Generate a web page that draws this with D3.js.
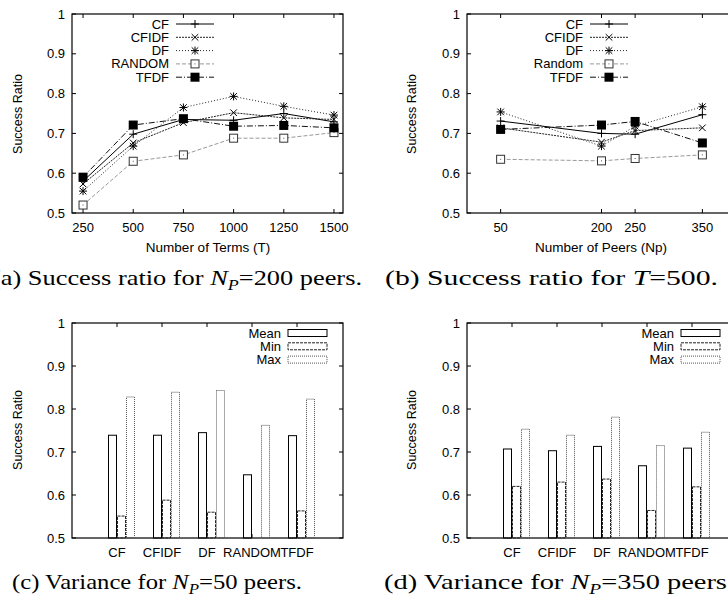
<!DOCTYPE html>
<html>
<head>
<meta charset="utf-8">
<script src="https://cdn.jsdelivr.net/npm/d3@7"></script>
<style>
  body { margin: 0; background: #fff; }
  svg text { font-family: "Liberation Sans", Arial, sans-serif; }
  .cap { font-family: "Liberation Serif", "Times New Roman", serif; font-size: 22px; }
</style>
</head>
<body>
<svg id="chart" width="728" height="600"></svg>
<script>
// ---- data ----
var methods = ["CF", "CFIDF", "DF", "RANDOM", "TFDF"];
var methodsB = ["CF", "CFIDF", "DF", "Random", "TFDF"];
var yTicks = [0.5, 0.6, 0.7, 0.8, 0.9, 1];

// (a) success ratio vs number of terms, Np=200
var terms = [250, 500, 750, 1000, 1250, 1500];
var aCF     = [0.580, 0.698, 0.735, 0.733, 0.750, 0.729];
var aCFIDF  = [0.573, 0.676, 0.727, 0.752, 0.739, 0.735];
var aDF     = [0.555, 0.668, 0.765, 0.793, 0.768, 0.746];
var aRANDOM = [0.520, 0.630, 0.646, 0.688, 0.688, 0.702];
var aTFDF   = [0.590, 0.721, 0.737, 0.718, 0.720, 0.714];

// (b) success ratio vs number of peers, T=500
var peers = [50, 200, 250, 350];
var bCF     = [0.731, 0.700, 0.698, 0.747];
var bCFIDF  = [0.714, 0.678, 0.707, 0.714];
var bDF     = [0.754, 0.668, 0.718, 0.767];
var bRandom = [0.635, 0.631, 0.637, 0.646];
var bTFDF   = [0.710, 0.721, 0.730, 0.676];

// (c) variance, Np=50
var cMean = [0.739, 0.739, 0.745, 0.647, 0.738];
var cMin  = [0.551, 0.588, 0.560, 0.500, 0.563];
var cMax  = [0.828, 0.839, 0.843, 0.762, 0.823];

// (d) variance, Np=350
var dMean = [0.707, 0.703, 0.713, 0.668, 0.709];
var dMin  = [0.620, 0.630, 0.637, 0.564, 0.619];
var dMax  = [0.753, 0.739, 0.781, 0.715, 0.746];

var svg = d3.select("#chart");

// line styles per series (index matches methods)
var styles = [
  {dash: null,        color: "#000", marker: "plus"},
  {dash: "2,1",       color: "#222", marker: "cross"},
  {dash: "1,2",       color: "#222", marker: "star"},
  {dash: "4,2",       color: "#999", marker: "box"},
  {dash: "6,2,1,2",   color: "#111", marker: "fbox"}
];

function marker(g, type, x, y) {
  var s = 4;
  if (type == "plus" || type == "star") {
    g.append("path").attr("d", "M" + (x - s) + "," + y + "H" + (x + s) + "M" + x + "," + (y - s) + "V" + (y + s))
      .attr("stroke", "#000").attr("stroke-width", 1);
  }
  if (type == "cross" || type == "star") {
    var c = 3.3;
    g.append("path").attr("d", "M" + (x - c) + "," + (y - c) + "L" + (x + c) + "," + (y + c) + "M" + (x - c) + "," + (y + c) + "L" + (x + c) + "," + (y - c))
      .attr("stroke", "#000").attr("stroke-width", 1);
  }
  if (type == "box") {
    g.append("rect").attr("x", x - 4).attr("y", y - 4).attr("width", 8).attr("height", 8)
      .attr("fill", "#fff").attr("stroke", "#333").attr("stroke-width", 1);
    g.append("rect").attr("x", x - 0.5).attr("y", y - 0.5).attr("width", 1).attr("height", 1).attr("fill", "#555");
  }
  if (type == "fbox") {
    g.append("rect").attr("x", x - 4.5).attr("y", y - 4.5).attr("width", 9).attr("height", 9).attr("fill", "#000");
  }
}

// frame + y axis common to all panels
function frame(left, right, top, bottom, y, xticks, xpos) {
  var g = svg.append("g");
  g.append("rect").attr("x", left).attr("y", top).attr("width", right - left).attr("height", bottom - top)
    .attr("fill", "none").attr("stroke", "#000").attr("stroke-width", 1.2);
  yTicks.forEach(function(t) {
    var yy = y(t);
    g.append("line").attr("x1", left).attr("x2", left + 4).attr("y1", yy).attr("y2", yy).attr("stroke", "#000");
    g.append("line").attr("x1", right - 4).attr("x2", right).attr("y1", yy).attr("y2", yy).attr("stroke", "#000");
    g.append("text").attr("x", left - 7).attr("y", yy + 4.5).attr("text-anchor", "end")
      .attr("font-size", 13).text(t === 1 ? "1" : d3.format(".1f")(t));
  });
  xticks.forEach(function(t) {
    var xx = xpos(t);
    g.append("line").attr("x1", xx).attr("x2", xx).attr("y1", bottom).attr("y2", bottom - 4).attr("stroke", "#000");
    g.append("line").attr("x1", xx).attr("x2", xx).attr("y1", top).attr("y2", top + 4).attr("stroke", "#000");
  });
  return g;
}

function yTitle(x, cy) {
  svg.append("text").attr("transform", "translate(" + x + "," + cy + ") rotate(-90)")
    .attr("text-anchor", "middle").attr("font-size", 12.5).text("Success Ratio");
}

// ---------- line panels ----------
function linePanel(opt) {
  var y = d3.scaleLinear().domain([0.5, 1]).range([opt.bottom, opt.top]);
  var x = d3.scaleLinear().domain(opt.xdom).range([opt.left, opt.left + opt.xw]);
  var g = frame(opt.left, opt.left + opt.xw, opt.top, opt.bottom, y, opt.xs, x);
  opt.xs.forEach(function(t) {
    g.append("text").attr("x", x(t)).attr("y", opt.bottom + 19).attr("text-anchor", "middle")
      .attr("font-size", 13).text(t);
  });
  g.append("text").attr("x", opt.titleX).attr("y", opt.bottom + 39).attr("text-anchor", "middle")
    .attr("font-size", 13.5).text(opt.xtitle);

  var line = d3.line().x(function(d) { return x(d[0]); }).y(function(d) { return y(d[1]); });
  opt.series.forEach(function(vals, i) {
    var st = styles[i];
    var pts = opt.xs.map(function(t, j) { return [t, vals[j]]; });
    g.append("path").attr("d", line(pts)).attr("fill", "none").attr("stroke", st.color)
      .attr("stroke-width", 1).attr("stroke-dasharray", st.dash);
  });
  // markers drawn after lines
  opt.series.forEach(function(vals, i) {
    opt.xs.forEach(function(t, j) { marker(g, styles[i].marker, x(t), y(vals[j])); });
  });
  // legend
  opt.names.forEach(function(n, i) {
    var ly = opt.top + 10 + i * 13.3;
    g.append("text").attr("x", opt.legX).attr("y", ly + 4.5).attr("text-anchor", "end")
      .attr("font-size", 13).text(n);
    g.append("line").attr("x1", opt.legX + 7).attr("x2", opt.legX + 45).attr("y1", ly).attr("y2", ly)
      .attr("stroke", styles[i].color).attr("stroke-dasharray", styles[i].dash);
    marker(g, styles[i].marker, opt.legX + 26, ly);
  });
}

linePanel({left: 72, xw: 271, top: 14, bottom: 213, xdom: [195, 1545], xs: terms,
  series: [aCF, aCFIDF, aDF, aRANDOM, aTFDF], names: methods, legX: 169,
  titleX: 208, xtitle: "Number of Terms (T)"});
linePanel({left: 467, xw: 269, top: 14, bottom: 213, xdom: [0, 400], xs: peers,
  series: [bCF, bCFIDF, bDF, bRandom, bTFDF], names: methodsB, legX: 583,
  titleX: 601, xtitle: "Number of Peers (Np)"});
yTitle(22, 114);
yTitle(416, 114);

// ---------- bar panels ----------
var barStyles = [
  {dash: null, color: "#000"},
  {dash: "3,1", color: "#222"},
  {dash: "1,1", color: "#555"}
];
var barNames = ["Mean", "Min", "Max"];

function barPanel(opt) {
  var y = d3.scaleLinear().domain([0.5, 1]).range([opt.bottom, opt.top]);
  var x = d3.scaleLinear().domain([-1, 5]).range([opt.left, opt.left + 270]);
  var idx = d3.range(methods.length);
  var g = frame(opt.left, opt.left + 271, opt.top, opt.bottom, y, idx, x);
  idx.forEach(function(i) {
    g.append("text").attr("x", x(i)).attr("y", opt.bottom + 19).attr("text-anchor", "middle")
      .attr("font-size", 13).text(methods[i]);
  });
  [opt.mean, opt.min, opt.max].forEach(function(vals, k) {
    var st = barStyles[k];
    g.selectAll(null).data(vals).enter().append("rect")
      .attr("x", function(d, i) { return x(i - 0.2 + 0.2 * k) + 0.5; })
      .attr("width", x(0.2) - x(0) - 1)
      .attr("y", function(d) { return y(d); })
      .attr("height", function(d) { return y(0.5) - y(d); })
      .attr("fill", "none").attr("stroke", st.color).attr("stroke-width", 1)
      .attr("stroke-dasharray", st.dash);
  });
  barNames.forEach(function(n, k) {
    var ly = opt.top + 10 + k * 13.3;
    g.append("text").attr("x", opt.legX).attr("y", ly + 4.5).attr("text-anchor", "end")
      .attr("font-size", 13).text(n);
    g.append("rect").attr("x", opt.legX + 7).attr("y", ly - 3.5).attr("width", 39).attr("height", 7)
      .attr("fill", "none").attr("stroke", barStyles[k].color).attr("stroke-dasharray", barStyles[k].dash);
  });
}

barPanel({left: 72, top: 323, bottom: 538, mean: cMean, min: cMin, max: cMax, legX: 281});
barPanel({left: 467, top: 323, bottom: 538, mean: dMean, min: dMin, max: dMax, legX: 674});
yTitle(22, 430);
yTitle(416, 430);

// ---------- captions ----------
function caption(x, y, len, parts) {
  var t = svg.append("text").attr("class", "cap").attr("x", x).attr("y", y);
  if (len) t.attr("textLength", len).attr("lengthAdjust", "spacingAndGlyphs");
  parts.forEach(function(p) {
    var s = t.append("tspan").text(p.t);
    if (p.i) s.attr("font-style", "italic");
    if (p.sub) s.attr("font-size", 15).attr("dy", 5);
    if (p.up) s.attr("dy", -5);
  });
}
caption(-8, 285, 370, [{t: "(a) Success ratio for "}, {t: "N", i: 1}, {t: "P", i: 1, sub: 1}, {t: "=200 peers.", up: 1}]);
caption(385, 285, 333, [{t: "(b) Success ratio for "}, {t: "T", i: 1}, {t: "=500."}]);
caption(12, 589, 290, [{t: "(c) Variance for "}, {t: "N", i: 1}, {t: "P", i: 1, sub: 1}, {t: "=50 peers.", up: 1}]);
caption(384, 589, 350, [{t: "(d) Variance for "}, {t: "N", i: 1}, {t: "P", i: 1, sub: 1}, {t: "=350 peers.", up: 1}]);
</script>
</body>
</html>
